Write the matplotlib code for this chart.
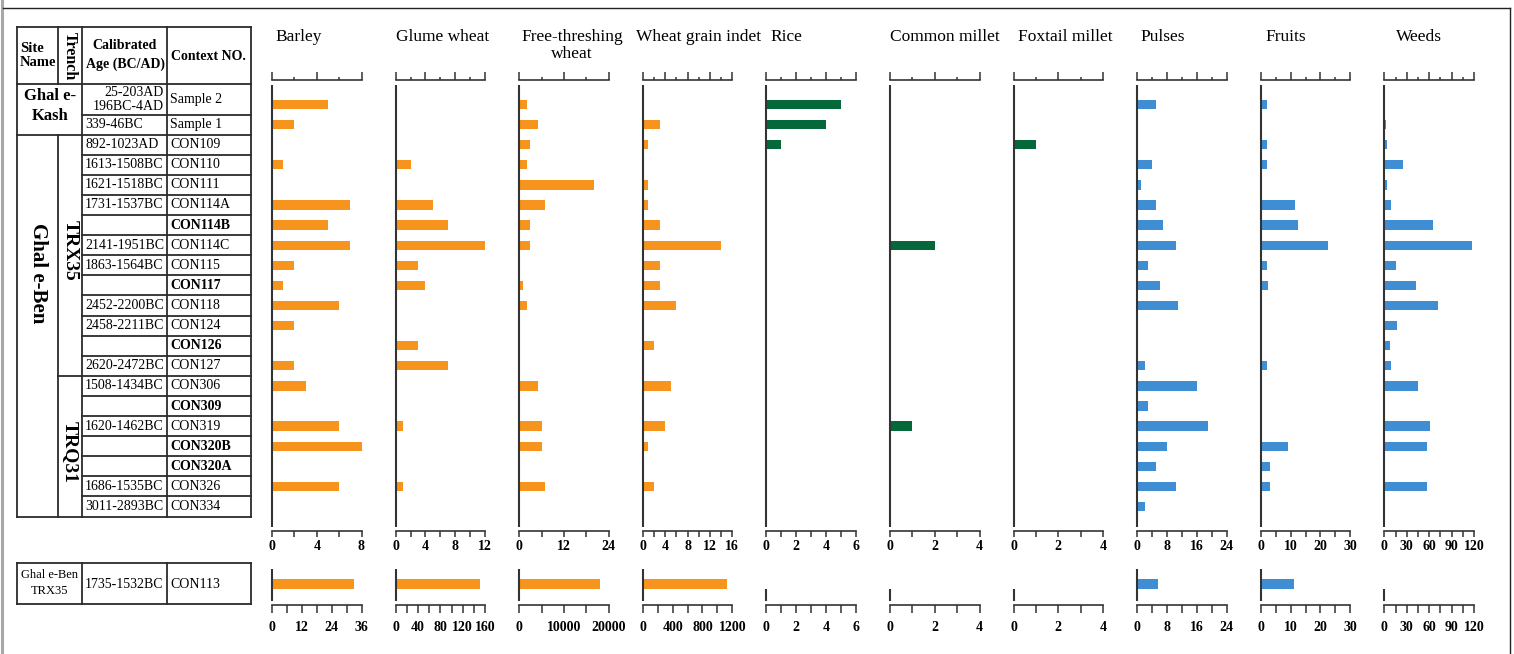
import numpy as np
import matplotlib
matplotlib.use("Agg")
import matplotlib.pyplot as plt
from matplotlib.ticker import NullFormatter

W, H = 1514, 654
plt.rcParams['font.family'] = ['Liberation Serif', 'DejaVu Serif']

# ---------------- data ----------------
contexts = ["Sample 2", "Sample 1", "CON109", "CON110", "CON111", "CON114A", "CON114B",
            "CON114C", "CON115", "CON117", "CON118", "CON124", "CON126", "CON127",
            "CON306", "CON309", "CON319", "CON320B", "CON320A", "CON326", "CON334"]
ages = ["25-203AD\n196BC-4AD", "339-46BC", "892-1023AD", "1613-1508BC", "1621-1518BC",
        "1731-1537BC", "", "2141-1951BC", "1863-1564BC", "", "2452-2200BC", "2458-2211BC",
        "", "2620-2472BC", "1508-1434BC", "", "1620-1462BC", "", "", "1686-1535BC",
        "3011-2893BC"]
taxa = ["Barley", "Glume wheat", "Free-threshing\nwheat", "Wheat grain indet", "Rice",
        "Common millet", "Foxtail millet", "Pulses", "Fruits", "Weeds"]

barley = [5, 2, 0, 1, 0, 7, 5, 7, 2, 1, 6, 2, 0, 2, 3, 0, 6, 8, 0, 6, 0]
glume_wheat = [0, 0, 0, 2, 0, 5, 7, 12, 3, 4, 0, 0, 3, 7, 0, 0, 1, 0, 0, 1, 0]
free_threshing = [2, 5, 3, 2, 20, 7, 3, 3, 0, 1, 2, 0, 0, 0, 5, 0, 6, 6, 0, 7, 0]
wheat_indet = [0, 3, 1, 0, 1, 1, 3, 14, 3, 3, 6, 0, 2, 0, 5, 0, 4, 1, 0, 2, 0]
rice = [5, 4, 1, 0, 0, 0, 0, 0, 0, 0, 0, 0, 0, 0, 0, 0, 0, 0, 0, 0, 0]
common_millet = [0, 0, 0, 0, 0, 0, 0, 2, 0, 0, 0, 0, 0, 0, 0, 0, 1, 0, 0, 0, 0]
foxtail_millet = [0, 0, 1, 0, 0, 0, 0, 0, 0, 0, 0, 0, 0, 0, 0, 0, 0, 0, 0, 0, 0]
pulses = [5, 0, 0, 4, 1, 5, 7, 10.5, 3, 6, 11, 0, 0, 2, 16, 3, 19, 8, 5, 10.5, 2]
fruits = [2, 0.5, 2, 2, 0, 11.5, 12.5, 22.5, 2, 2.5, 0, 0, 0, 2, 0.5, 0.5, 0.5, 9, 3, 3, 0]
weeds = [1, 2.5, 3, 25, 4, 8.5, 65, 117, 15, 43, 72, 17, 7, 8.5, 45, 0, 61, 57, 1, 57, 1]

# CON113 (Ghal e-Ben TRX35, 1735-1532BC), separate scales
con113_site = "Ghal e-Ben\nTRX35"
con113_age = "1735-1532BC"
con113_ctx = "CON113"
con113 = [33, 150, 18000, 1130, 0, 0, 0, 5.5, 11, 0]

# axis scales
top_max = [8, 12, 24, 16, 6, 4, 4, 24, 30, 120]
top_step = [2, 2, 6, 2, 1, 1, 1, 4, 5, 15]
top_label_step = [4, 4, 12, 4, 2, 2, 2, 8, 10, 30]
bot_max = [36, 160, 20000, 1200, 6, 4, 4, 24, 30, 120]
bot_step = [6, 20, 5000, 200, 1, 1, 1, 4, 5, 15]
bot_label_step = [12, 40, 10000, 400, 2, 2, 2, 8, 10, 30]

series = [barley, glume_wheat, free_threshing, wheat_indet, rice, common_millet,
          foxtail_millet, pulses, fruits, weeds]

# ---------------- style / layout ----------------
ORANGE, GREEN, BLUE = '#F7941D', '#05683A', '#3F8ED3'
bar_colors = [ORANGE] * 4 + [GREEN] * 3 + [BLUE] * 3
LC = '#333333'
TC = '#2b2b2b'
X0, PITCH, AXW = 272.0, 123.6, 89.5
title_x = [275, 396, 521, 636, 770, 890, 1018, 1140, 1265, 1396]
ROW0, ROWH = 104.5, 20.1

fig = plt.figure(figsize=(W / 100, H / 100), dpi=100)
fig.patch.set_facecolor('white')

bg = fig.add_axes([0, 0, 1, 1], zorder=0)
bg.set_xlim(0, W)
bg.set_ylim(H, 0)
bg.axis('off')


def rect(x_left, y_top, y_bot, w=AXW):
    return [x_left / W, 1 - y_bot / H, w / W, (y_bot - y_top) / H]


def py(y):
    return (y - ROW0) / ROWH


def line(x1, y1, x2, y2, lw=1.3, color=TC):
    bg.plot([x1, x2], [y1, y2], color=color, lw=lw, solid_capstyle='projecting')


# outer frame
line(1.5, 0, 1.5, H, lw=2.2, color='#a8a8a8')
line(3, 8, 1510, 8, lw=1.0, color='#222222')
line(1510, 8, 1510, H, lw=1.0, color='#222222')

# ---------------- table ----------------
TL, TR = 17, 251
C1, C2, C3 = 58, 82, 167
TT, HB = 27, 84
bounds = [ROW0 + ROWH * (i + 0.5) for i in range(len(contexts))]
TB = bounds[-1]

line(TL, TT, TR, TT)
line(TL, TB, TR, TB)
line(TL, TT, TL, TB)
line(TR, TT, TR, TB)
line(TL, HB, TR, HB)
line(C2, TT, C2, TB)
line(C3, TT, C3, TB)
line(C1, TT, C1, HB)
line(C1, bounds[1], C1, TB)
for i in range(len(contexts) - 1):
    yb = bounds[i]
    if i == 1:
        line(TL, yb, TR, yb)
    elif i == 13:
        line(C1, yb, TR, yb)
    else:
        line(C2, yb, TR, yb)

# header
bg.text(20, 56, "Site\nName", fontsize=10.5, fontweight='bold', ha='left', va='center',
        linespacing=1.1)
bg.text(70, 56, "Trench", fontsize=11.5, fontweight='bold', ha='center', va='center',
        rotation=270)
bg.text(125, 55, "Calibrated\nAge (BC/AD)", fontsize=10, fontweight='bold', ha='center',
        va='center', linespacing=1.5)
bg.text(171, 57, "Context NO.", fontsize=10, fontweight='bold', ha='left', va='center')

# site/trench labels
bg.text(50, 106, "Ghal e-\nKash", fontsize=12, fontweight='bold', ha='center', va='center',
        linespacing=1.25)
bg.text(37.5, 273, "Ghal e-Ben", fontsize=15, fontweight='bold', ha='center', va='center',
        rotation=270)
bg.text(70.5, 250, "TRX35", fontsize=14, fontweight='bold', ha='center', va='center',
        rotation=270)
bg.text(70.5, 452, "TRQ31", fontsize=14, fontweight='bold', ha='center', va='center',
        rotation=270)

no_date_bold = {"CON114B", "CON117", "CON126", "CON309", "CON320B", "CON320A"}
for i, (ctx, age) in enumerate(zip(contexts, ages)):
    yc = ROW0 + ROWH * i
    if i == 0:
        bg.text(164, 99, age, fontsize=10, ha='right', va='center', multialignment='right',
                linespacing=1.1)
        bg.text(170, 100, ctx, fontsize=10, ha='left', va='center')
        continue
    if age:
        bg.text(85, yc, age, fontsize=10, ha='left', va='center')
    bg.text(170, yc, ctx, fontsize=10, ha='left', va='center',
            fontweight='bold' if ctx in no_date_bold else 'normal')

# bottom table (CON113)
BT, BB = 563, 603.5
line(TL, BT, TR, BT)
line(TL, BB, TR, BB)
line(TL, BT, TL, BB)
line(TR, BT, TR, BB)
line(C2, BT, C2, BB)
line(C3, BT, C3, BB)
bg.text(49.5, 583, con113_site, fontsize=9, ha='center', va='center', linespacing=1.35)
bg.text(85, 584, con113_age, fontsize=10, ha='left', va='center')
bg.text(170, 584, con113_ctx, fontsize=10, ha='left', va='center')


# ---------------- panels ----------------
def tick_setup(ticks, label_step):
    labels = []
    for t in ticks:
        q = t / label_step
        labels.append(f"{t:g}" if abs(q - round(q)) < 1e-9 else "")
    return labels


for k in range(len(taxa)):
    x0 = X0 + PITCH * k
    # titles
    bg.text(title_x[k], 29, taxa[k], fontsize=12.5, ha='left', va='top',
            multialignment='center', linespacing=1.12)

    # ---- main panel ----
    ax = fig.add_axes(rect(x0, 80, 531), zorder=2)
    ax.patch.set_visible(False)
    vals = series[k]
    ypos = np.arange(len(vals))
    ax.barh(ypos, vals, height=0.46, color=bar_colors[k], zorder=2)
    ax.set_xlim(0, top_max[k])
    ax.set_ylim(py(531), py(80))
    ax.plot([0, 0], [py(85), py(527)], color=LC, lw=1.5, clip_on=False, zorder=3,
            solid_capstyle='butt')
    for s in ['left', 'right', 'top']:
        ax.spines[s].set_visible(False)
    ax.spines['bottom'].set_linewidth(1.2)
    ax.spines['bottom'].set_color(LC)
    ticks = np.arange(0, top_max[k] + 1e-9, top_step[k])
    ax.set_xticks(ticks, labels=tick_setup(ticks, top_label_step[k]), fontsize=10,
                  fontweight='bold')
    ax.tick_params(axis='x', direction='out', length=4.3, width=1.1, pad=2.5, color=LC)
    ax.set_yticks([])

    sec = ax.secondary_xaxis('top')
    majors = [t for t in ticks if abs(t / top_label_step[k] - round(t / top_label_step[k])) < 1e-9]
    minors = [t for t in ticks if t not in majors]
    sec.set_xticks(majors)
    sec.set_xticks(minors, minor=True)
    sec.xaxis.set_major_formatter(NullFormatter())
    sec.xaxis.set_minor_formatter(NullFormatter())
    sec.tick_params(which='major', direction='out', length=5.5, width=1.1, color=LC)
    sec.tick_params(which='minor', direction='out', length=2.4, width=1.1, color=LC)
    sec.spines['top'].set_linewidth(1.2)
    sec.spines['top'].set_color(LC)

    # ---- CON113 panel ----
    bx = fig.add_axes(rect(x0, 563, 605), zorder=2)
    bx.patch.set_visible(False)
    bx.set_xlim(0, bot_max[k])
    bx.set_ylim(-1, 1)
    v = con113[k]
    if v > 0:
        bx.barh([0], [v], height=0.48, color=bar_colors[k], zorder=2)
        ytop = (584 - 569) / 21
    else:
        ytop = (584 - 589) / 21
    bx.plot([0, 0], [ytop, (584 - 601) / 21], color=LC, lw=1.5, clip_on=False, zorder=3,
            solid_capstyle='butt')
    for s in ['left', 'right', 'top']:
        bx.spines[s].set_visible(False)
    bx.spines['bottom'].set_linewidth(1.2)
    bx.spines['bottom'].set_color(LC)
    bticks = np.arange(0, bot_max[k] + 1e-9, bot_step[k])
    bx.set_xticks(bticks, labels=tick_setup(bticks, bot_label_step[k]), fontsize=10,
                  fontweight='bold')
    bx.tick_params(axis='x', direction='out', length=6, width=1.1, pad=5.5, color=LC)
    bx.set_yticks([])

fig.savefig("out.png", dpi=100, facecolor='white')
